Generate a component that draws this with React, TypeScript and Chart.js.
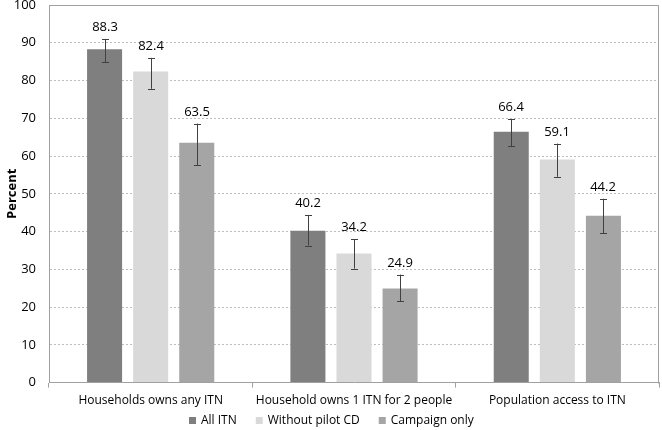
import React, { useEffect, useRef } from "react";
import { Chart, registerables } from "chart.js";

Chart.register(...registerables);

const categories = ["Households owns any ITN", "Household owns 1 ITN for 2 people", "Population access to ITN"];
const seriesNames = ["All ITN", "Without pilot CD", "Campaign only"];
const allItn = [88.3, 40.2, 66.4];
const withoutPilot = [82.4, 34.2, 59.1];
const campaignOnly = [63.5, 24.9, 44.2];
const allItnLow = [84.8, 36.3, 62.6];
const allItnHigh = [91.0, 44.4, 69.8];
const withoutPilotLow = [77.8, 30.2, 54.5];
const withoutPilotHigh = [86.0, 38.0, 63.3];
const campaignLow = [57.6, 21.5, 39.5];
const campaignHigh = [68.6, 28.6, 48.7];
const yTicks = [0, 10, 20, 30, 40, 50, 60, 70, 80, 90, 100];

const colors = ["#7f7f7f", "#d9d9d9", "#a5a5a5"];
const lows = [allItnLow, withoutPilotLow, campaignLow];
const highs = [allItnHigh, withoutPilotHigh, campaignHigh];
const FONT = "'Open Sans', sans-serif";

const errorPlugin = {
  id: "errorBars",
  afterDatasetsDraw(chart: any) {
    const ctx = chart.ctx;
    const y = chart.scales.y;
    chart.data.datasets.forEach((ds: any, di: number) => {
      const meta = chart.getDatasetMeta(di);
      meta.data.forEach((bar: any, i: number) => {
        const x = Math.round(bar.x);
        const yl = y.getPixelForValue(lows[di][i]);
        const yh = y.getPixelForValue(highs[di][i]);
        ctx.save();
        ctx.strokeStyle = "#404040";
        ctx.lineWidth = 1;
        ctx.beginPath();
        ctx.moveTo(x + 0.5, yl);
        ctx.lineTo(x + 0.5, yh);
        ctx.moveTo(x - 3, Math.round(yl) + 0.5);
        ctx.lineTo(x + 4, Math.round(yl) + 0.5);
        ctx.moveTo(x - 3, Math.round(yh) + 0.5);
        ctx.lineTo(x + 4, Math.round(yh) + 0.5);
        ctx.stroke();
        ctx.fillStyle = "#000";
        ctx.font = "13px " + FONT;
        ctx.textAlign = "center";
        ctx.textBaseline = "bottom";
        ctx.fillText(ds.data[i].toFixed(1), x, yh - 5);
        ctx.restore();
      });
    });
  },
  afterDraw(chart: any) {
    const { ctx, chartArea: a } = chart;
    ctx.save();
    ctx.strokeStyle = "#a0a0a0";
    ctx.lineWidth = 1;
    ctx.beginPath();
    ctx.moveTo(Math.round(a.left) + 0.5, Math.round(a.top) + 0.5);
    ctx.lineTo(Math.round(a.right) - 0.5, Math.round(a.top) + 0.5);
    ctx.lineTo(Math.round(a.right) - 0.5, Math.round(a.bottom) + 0.5);
    ctx.stroke();

    // legend
    ctx.font = "12px " + FONT;
    ctx.textBaseline = "middle";
    ctx.textAlign = "left";
    const box = 7, gapText = 5, gapItem = 19;
    const widths = chart.data.datasets.map((d: any) => box + gapText + ctx.measureText(d.label).width);
    const total = widths.reduce((s: number, w: number) => s + w, 0) + gapItem * (widths.length - 1);
    let x = Math.round(chart.width / 2 - total / 2);
    const yc = 421;
    chart.data.datasets.forEach((d: any, i: number) => {
      ctx.fillStyle = d.backgroundColor;
      ctx.fillRect(x, yc - 4, box, box);
      ctx.fillStyle = "#000";
      ctx.fillText(d.label, x + box + gapText, yc);
      x += widths[i] + gapItem;
    });
    ctx.restore();
  },
};

export default function App() {
  const ref = useRef<HTMLCanvasElement>(null);
  useEffect(() => {
    document.body.style.margin = "0";
    const chart = new Chart(ref.current!, {
      type: "bar",
      data: {
        labels: categories,
        datasets: [allItn, withoutPilot, campaignOnly].map((d, i) => ({
          label: seriesNames[i],
          data: d,
          backgroundColor: colors[i],
          borderWidth: 0,
          categoryPercentage: 0.68,
          barPercentage: 0.76,
        })),
      },
      options: {
        animation: false,
        responsive: false,
        layout: { padding: { top: 5, right: 3, left: 4, bottom: 16 } },
        plugins: {
          legend: { display: false },
          tooltip: { enabled: false },
        },
        scales: {
          x: {
            grid: { display: true, drawOnChartArea: false, offset: true, tickLength: 5, color: "#a0a0a0" },
            border: { color: "#a0a0a0" },
            ticks: { color: "#000", padding: 6, font: { family: FONT, size: 12 } },
          },
          y: {
            min: 0,
            max: 100,
            afterBuildTicks(s: any) {
              s.ticks = yTicks.map((v) => ({ value: v }));
            },
            afterFit(s: any) {
              s.width = 45;
              s.paddingTop = 0;
              s.paddingBottom = 0;
            },
            grid: {
              color: (c: any) => (c.tick && c.tick.value === 0 ? "rgba(0,0,0,0)" : "#bdbdbd"),
              drawTicks: false,
            },
            border: { color: "#a0a0a0", dash: [2, 2] },
            ticks: { color: "#000", padding: 13, font: { family: FONT, size: 13 } },
            title: {
              display: true,
              text: "Percent",
              color: "#000",
              font: { family: FONT, size: 13, weight: "bold" },
              padding: 0,
            },
          },
        },
      },
      plugins: [errorPlugin],
    });
    return () => chart.destroy();
  }, []);
  return (
    <div style={{ width: 662, height: 430 }}>
      <canvas ref={ref} width={662} height={430} />
    </div>
  );
}
